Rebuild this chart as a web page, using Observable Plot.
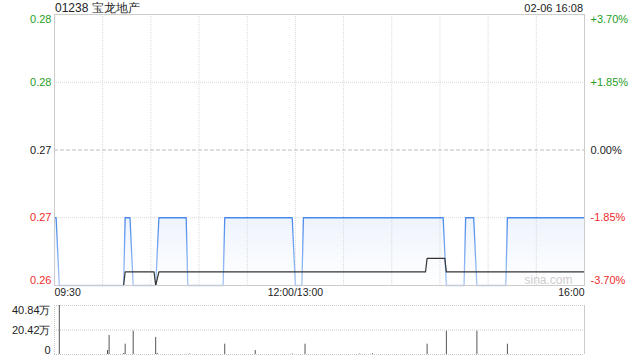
<!DOCTYPE html>
<html>
<head>
<meta charset="utf-8">
<script src="https://cdn.jsdelivr.net/npm/d3@7"></script>
<script src="https://cdn.jsdelivr.net/npm/@observablehq/plot@0.6"></script>
<style>
  html, body { margin: 0; padding: 0; background: #fff; }
  #wrap { position: relative; width: 640px; height: 360px; font-family: "Liberation Sans", Arial, sans-serif; color: #222; overflow: hidden; }
  #title { position: absolute; left: 55px; top: 1px; font-size: 12px; line-height: 14px; }
  #stamp { position: absolute; right: 57px; top: 2px; font-size: 11px; line-height: 13px; }
  #main { position: absolute; left: 0; top: 0; }
  #vol { position: absolute; left: 0; top: 300px; }
</style>
</head>
<body>
<div id="wrap">
  <div id="main"></div>
  <div id="vol"></div>
  <div id="title">01238 宝龙地产</div>
  <div id="stamp">02-06 16:08</div>
</div>
<script>
// ---- data (minutes since 09:30 on a trading-minute axis, 0..330) ----
const priceMinutes = [0, 1, 3, 43, 44, 47, 49, 63, 65, 82, 83, 105, 106, 148, 150, 154, 155, 242, 244, 255, 256, 261, 263, 281, 282, 330];
const priceValues  = [0.265, 0.265, 0.26, 0.26, 0.265, 0.265, 0.26, 0.26, 0.265, 0.265, 0.26, 0.26, 0.265, 0.265, 0.26, 0.26, 0.265, 0.265, 0.26, 0.26, 0.265, 0.265, 0.26, 0.26, 0.265, 0.265];

const avgMinutes = [0, 43, 44, 62, 63, 65, 231, 232, 243, 244, 330];
const avgValues  = [0.26, 0.26, 0.261, 0.261, 0.26, 0.261, 0.261, 0.262, 0.262, 0.261, 0.261];

const volMinutes = [3, 33, 34, 43, 44, 49, 63, 64, 84, 106, 125, 148, 156, 190, 198, 232, 244, 263, 282];
const volValues  = [408400, 33000, 158000, 8000, 86000, 194000, 142000, 8000, 4000, 86000, 33000, 4000, 86000, 4000, 6000, 86000, 194000, 194000, 86000];

const prevClose = 0.27;
const priceLevels = [0.28, 0.275, 0.27, 0.265, 0.26];
const priceLabels = ["0.28", "0.28", "0.27", "0.27", "0.26"];
const pctLabels   = ["+3.70%", "+1.85%", "0.00%", "-1.85%", "-3.70%"];

const volLevels = [408400, 204200, 0];
const volLabels = ["40.84万", "20.42万", "0"];

const gridMinutes = [30, 60, 90, 120, 150, 180, 210, 240, 270, 300];
const timeTicks  = [0, 150, 330];
const timeLabels = ["09:30", "12:00/13:00", "16:00"];

// ---- derived tables ----
const price = priceMinutes.map((m, i) => ({m, v: priceValues[i]}));
const avg = avgMinutes.map((m, i) => ({m, v: avgValues[i]}));
const vol = volMinutes.map((m, i) => ({m, v: volValues[i]}));
const levels = priceLevels.map((v, i) => ({v, label: priceLabels[i], pct: pctLabels[i], i}));
const vlevels = volLevels.map((v, i) => ({v, label: volLabels[i], i}));
const ticks = timeTicks.map((m, i) => ({m, label: timeLabels[i], i}));

const GREEN = "#1f9e1f", RED = "#f02a2a", BLACK = "#222";
const levelColor = d => d.v > prevClose + 1e-9 ? GREEN : d.v < prevClose - 1e-9 ? RED : BLACK;

const defs = () => {
  const g = d3.create("svg:defs");
  const s = g.append("linearGradient").attr("id", "strokeGrad").attr("x1", 0).attr("y1", 0).attr("x2", 0).attr("y2", 1);
  s.append("stop").attr("offset", "0%").attr("stop-color", "#4a89ec");
  s.append("stop").attr("offset", "100%").attr("stop-color", "#a9c8f5");
  const f = g.append("linearGradient").attr("id", "fillGrad").attr("x1", 0).attr("y1", 0).attr("x2", 0).attr("y2", 1);
  f.append("stop").attr("offset", "0%").attr("stop-color", "#eef4fd");
  f.append("stop").attr("offset", "100%").attr("stop-color", "#ffffff");
  return g.node();
};

const GRID = "#d9d9d9";

const main = Plot.plot({
  width: 640, height: 300,
  marginTop: 14, marginBottom: 15, marginLeft: 54, marginRight: 56,
  style: {fontFamily: "Liberation Sans, Arial, sans-serif", background: "transparent"},
  x: {domain: [0, 330], axis: null},
  y: {domain: [0.26, 0.28], axis: null},
  marks: [
    defs,
    Plot.areaY(price, {x: "m", y1: 0.26, y2: "v", fill: "url(#fillGrad)", curve: "linear"}),
    Plot.ruleX(gridMinutes, {stroke: GRID, strokeDasharray: "1,1", strokeWidth: 1}),
    Plot.ruleY(levels.filter(d => d.i === 1 || d.i === 3), {y: "v", stroke: GRID, strokeDasharray: "1,1"}),
    Plot.ruleY(levels.filter(d => d.i === 2), {y: "v", stroke: "#bdbdbd", strokeDasharray: "4,2"}),
    Plot.line(price, {x: "m", y: "v", stroke: "url(#strokeGrad)", strokeWidth: 1.3}),
    Plot.line(avg, {x: "m", y: "v", stroke: "#333", strokeWidth: 1.2}),
    Plot.text(["sina.com"], {frameAnchor: "bottom-right", dx: -12, dy: -2, fill: "#cdcdcd", fontSize: 12}),
    Plot.frame({stroke: "#cccccc"}),
    // left labels
    Plot.text(levels.filter(d => d.i === 0), {x: 0, y: "v", text: "label", fill: levelColor, textAnchor: "end", dx: -3, lineAnchor: "top", dy: 1, fontSize: 11}),
    Plot.text(levels.filter(d => d.i > 0 && d.i < 4), {x: 0, y: "v", text: "label", fill: levelColor, textAnchor: "end", dx: -3, fontSize: 11}),
    Plot.text(levels.filter(d => d.i === 4), {x: 0, y: "v", text: "label", fill: levelColor, textAnchor: "end", dx: -3, lineAnchor: "bottom", dy: -2, fontSize: 11}),
    // right labels
    Plot.text(levels.filter(d => d.i === 0), {x: 330, y: "v", text: "pct", fill: levelColor, textAnchor: "start", dx: 6, lineAnchor: "top", dy: 1, fontSize: 11}),
    Plot.text(levels.filter(d => d.i > 0 && d.i < 4), {x: 330, y: "v", text: "pct", fill: levelColor, textAnchor: "start", dx: 6, fontSize: 11}),
    Plot.text(levels.filter(d => d.i === 4), {x: 330, y: "v", text: "pct", fill: levelColor, textAnchor: "start", dx: 6, lineAnchor: "bottom", dy: -2, fontSize: 11}),
    // time labels
    Plot.text(ticks.filter(d => d.i === 0), {x: "m", text: "label", frameAnchor: "bottom", lineAnchor: "top", dy: 3, textAnchor: "start", fill: BLACK, fontSize: 10.5}),
    Plot.text(ticks.filter(d => d.i === 1), {x: "m", text: "label", frameAnchor: "bottom", lineAnchor: "top", dy: 3, textAnchor: "middle", fill: BLACK, fontSize: 10.5}),
    Plot.text(ticks.filter(d => d.i === 2), {x: "m", text: "label", frameAnchor: "bottom", lineAnchor: "top", dy: 3, textAnchor: "end", fill: BLACK, fontSize: 10.5})
  ]
});
document.getElementById("main").appendChild(main);

const volChart = Plot.plot({
  width: 640, height: 60,
  marginTop: 5, marginBottom: 6, marginLeft: 54, marginRight: 56,
  style: {fontFamily: "Liberation Sans, Arial, sans-serif", background: "transparent"},
  x: {domain: [0, 330], axis: null},
  y: {domain: [0, 408400], axis: null},
  marks: [
    Plot.ruleY(vlevels, {y: "v", stroke: "#c8c8c8", strokeDasharray: "1,1"}),
    Plot.ruleX([0], {stroke: "#c8c8c8", strokeDasharray: "1,1"}),
    Plot.ruleX([330], {stroke: "#cccccc"}),
    Plot.ruleX(vol, {x: "m", y1: 0, y2: "v", stroke: "#555", strokeWidth: 1}),
    Plot.text(vlevels.filter(d => d.i === 0), {x: 0, y: "v", text: "label", textAnchor: "end", dx: -4, lineAnchor: "top", dy: 1, fill: BLACK, fontSize: 11}),
    Plot.text(vlevels.filter(d => d.i === 1), {x: 0, y: "v", text: "label", textAnchor: "end", dx: -4, fill: BLACK, fontSize: 11}),
    Plot.text(vlevels.filter(d => d.i === 2), {x: 0, y: "v", text: "label", textAnchor: "end", dx: -4, lineAnchor: "bottom", dy: -1, fill: BLACK, fontSize: 11})
  ]
});
document.getElementById("vol").appendChild(volChart);
</script>
</body>
</html>
